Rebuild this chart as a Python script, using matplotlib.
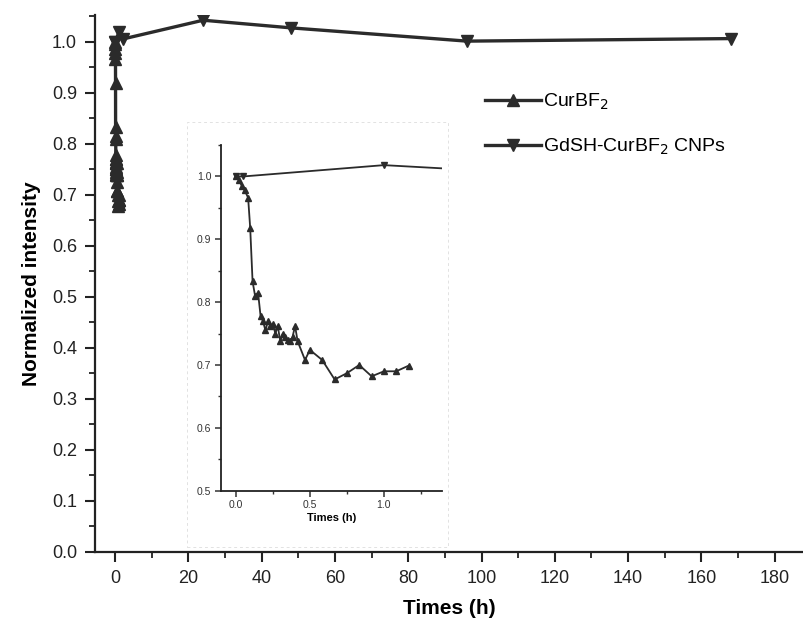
import matplotlib
matplotlib.use("Agg")
import matplotlib.pyplot as plt
from matplotlib.ticker import MultipleLocator, FormatStrFormatter
from matplotlib.patches import Rectangle

plt.rcParams['font.family'] = ['Liberation Sans', 'DejaVu Sans']

# Free CurBF2 fluorescence decay (time in hours)
cur_t = [0, 0.02, 0.04, 0.06, 0.083, 0.097, 0.113, 0.13, 0.15, 0.167, 0.183,
         0.20, 0.217, 0.233, 0.25, 0.267, 0.283, 0.30, 0.317, 0.333, 0.35,
         0.367, 0.383, 0.40, 0.417, 0.467, 0.50, 0.583, 0.667, 0.75, 0.833,
         0.917, 1.0, 1.083, 1.167]
cur_i = [1.0, 0.995, 0.985, 0.978, 0.966, 0.918, 0.833, 0.81, 0.815, 0.778,
         0.77, 0.755, 0.77, 0.762, 0.765, 0.75, 0.762, 0.738, 0.75, 0.744,
         0.74, 0.738, 0.745, 0.762, 0.738, 0.708, 0.724, 0.708, 0.677, 0.687,
         0.70, 0.682, 0.69, 0.69, 0.699]

# Gd-silica nanoparticle-loaded CurBF2
cnp_t = [0, 0.05, 1.0, 2.0, 24, 48, 96, 168]
cnp_i = [1.0, 1.0, 1.018, 1.005, 1.042, 1.027, 1.001, 1.006]

main_xticks = [0, 20, 40, 60, 80, 100, 120, 140, 160, 180]
inset_xticks = [0.0, 0.5, 1.0]

line_color = '#2b2b2b'

fig = plt.figure(figsize=(8.04, 6.3), dpi=100)
ax = fig.add_axes([0.1182, 0.1243, 0.8818, 0.8517])

ax.plot(cur_t, cur_i, marker='^', color=line_color, lw=2.4, ms=8,
        label='CurBF$_2$', zorder=3)
ax.plot(cnp_t, cnp_i, marker='v', color=line_color, lw=2.4, ms=8,
        label='GdSH-CurBF$_2$ CNPs', zorder=3)

ax.set_xlim(-5.5, 188)
ax.set_ylim(0, 1.052)
ax.set_xticks(main_xticks)
ax.xaxis.set_minor_locator(MultipleLocator(10))
ax.yaxis.set_major_locator(MultipleLocator(0.1))
ax.yaxis.set_minor_locator(MultipleLocator(0.05))
ax.yaxis.set_major_formatter(FormatStrFormatter('%.1f'))
for s in ['top', 'right']:
    ax.spines[s].set_visible(False)
for s in ['left', 'bottom']:
    ax.spines[s].set_linewidth(1.6)
    ax.spines[s].set_color('#222222')
ax.tick_params(which='major', direction='out', length=7, width=1.5,
               labelsize=13, colors='#222222', pad=6)
ax.tick_params(which='minor', direction='out', length=4, width=1.3,
               colors='#222222')
ax.set_xlabel('Times (h)', fontsize=15, fontweight='bold', labelpad=9)
ax.set_ylabel('Normalized intensity', fontsize=15, fontweight='bold',
              labelpad=8)

ax.legend(loc='upper left', bbox_to_anchor=(0.55, 0.857), frameon=False,
          fontsize=14, handlelength=2.9, handletextpad=0.1,
          labelspacing=1.25, borderaxespad=0, borderpad=0)

# faint frame behind the inset
fig.patches.append(Rectangle((0.2326, 0.132), 0.325, 0.674,
                             transform=fig.transFigure, fill=False,
                             lw=0.7, ls=(0, (3, 3)), ec='#e2e2e2',
                             zorder=0))

ins = fig.add_axes([0.2749, 0.2211, 0.2745, 0.5487])
ins.plot(cur_t, cur_i, marker='^', color=line_color, lw=1.3, ms=5)
ins.plot(cnp_t, cnp_i, marker='v', color=line_color, lw=1.3, ms=5)
ins.set_xlim(-0.1, 1.39)
ins.set_ylim(0.5, 1.05)
ins.set_xticks(inset_xticks)
ins.xaxis.set_minor_locator(MultipleLocator(0.25))
ins.yaxis.set_major_locator(MultipleLocator(0.1))
ins.yaxis.set_minor_locator(MultipleLocator(0.05))
ins.xaxis.set_major_formatter(FormatStrFormatter('%.1f'))
ins.yaxis.set_major_formatter(FormatStrFormatter('%.1f'))
for s in ['top', 'right']:
    ins.spines[s].set_visible(False)
for s in ['left', 'bottom']:
    ins.spines[s].set_linewidth(1.3)
    ins.spines[s].set_color('#222222')
ins.tick_params(which='major', direction='out', length=4, width=1.1,
                labelsize=7.5, colors='#333333', pad=3)
ins.tick_params(which='minor', direction='out', length=2.5, width=1.0,
                colors='#333333')
ins.set_xlabel('Times (h)', fontsize=8, fontweight='bold', labelpad=2)
ins.patch.set_alpha(0)

fig.savefig('out.png', dpi=100)
